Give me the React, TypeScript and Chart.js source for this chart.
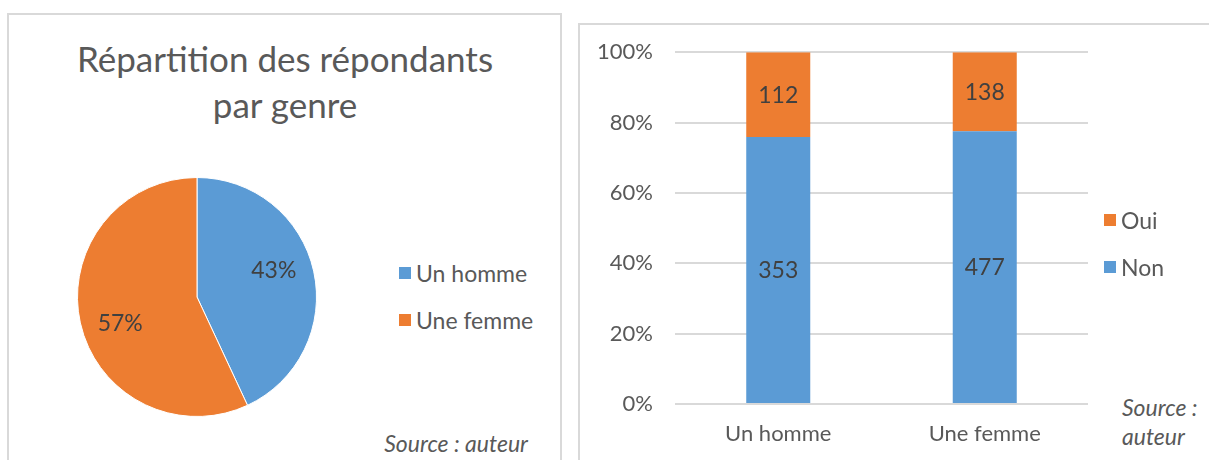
import React, { useEffect, useRef } from "react";
import { Chart, registerables } from "chart.js";

Chart.register(...registerables);

const pieTitle = ["Répartition des répondants", "par genre"];
const genderLabels = ["Un homme", "Une femme"];
const genderCounts = [465, 615];

const barCategories = ["Un homme", "Une femme"];
const nonCounts = [353, 477];
const ouiCounts = [112, 138];
const seriesNames = ["Non", "Oui"];
const sourceText = "Source : auteur";

const BLUE = "#5B9BD5";
const ORANGE = "#ED7D31";
const TEXT = "#595959";
const LABEL = "#404040";
const GRID = "#D9D9D9";
const FONT = "Lato, 'Open Sans', sans-serif";

const pieLabelPlugin = {
  id: "pieLabels",
  afterDatasetsDraw(chart: any) {
    const ctx = chart.ctx;
    const meta = chart.getDatasetMeta(0);
    const data = chart.data.datasets[0].data as number[];
    const total = data.reduce((a, b) => a + b, 0);
    ctx.save();
    ctx.font = `23px ${FONT}`;
    ctx.fillStyle = LABEL;
    ctx.textAlign = "center";
    ctx.textBaseline = "middle";
    meta.data.forEach((el: any, i: number) => {
      const p = el.getProps(["x", "y", "startAngle", "endAngle", "outerRadius"], true);
      const mid = (p.startAngle + p.endAngle) / 2 - 0.115;
      const r = p.outerRadius * 0.68;
      ctx.fillText(
        Math.round((data[i] / total) * 100) + "%",
        p.x + Math.cos(mid) * r,
        p.y + Math.sin(mid) * r
      );
    });
    ctx.restore();
  },
};

const barLabelPlugin = {
  id: "barLabels",
  afterDatasetsDraw(chart: any) {
    const ctx = chart.ctx;
    ctx.save();
    ctx.font = `23px ${FONT}`;
    ctx.fillStyle = LABEL;
    ctx.textAlign = "center";
    ctx.textBaseline = "middle";
    const counts = [nonCounts, ouiCounts];
    chart.data.datasets.forEach((_ds: any, di: number) => {
      const meta = chart.getDatasetMeta(di);
      meta.data.forEach((el: any, i: number) => {
        const p = el.getProps(["x", "y", "base"], true);
        ctx.fillText(String(counts[di][i]), p.x, (p.y + p.base) / 2 + 1);
      });
    });
    ctx.restore();
  },
};

function PieChart() {
  const ref = useRef<HTMLCanvasElement>(null);
  useEffect(() => {
    const chart = new Chart(ref.current!, {
      type: "pie",
      data: {
        labels: genderLabels,
        datasets: [
          {
            data: genderCounts,
            backgroundColor: [BLUE, ORANGE],
            borderColor: "#FFFFFF",
            borderWidth: 1,
          },
        ],
      },
      options: {
        responsive: false,
        animation: false,
        devicePixelRatio: 1,
        layout: { padding: 1 },
        plugins: { legend: { display: false }, tooltip: { enabled: false }, title: { display: false } },
      },
      plugins: [pieLabelPlugin],
    });
    return () => chart.destroy();
  }, []);
  return <canvas ref={ref} width={242} height={242} style={{ position: "absolute", left: 76, top: 176 }} />;
}

function BarChart() {
  const ref = useRef<HTMLCanvasElement>(null);
  useEffect(() => {
    const totals = nonCounts.map((n, i) => n + ouiCounts[i]);
    const nonPct = nonCounts.map((n, i) => (n / totals[i]) * 100);
    const ouiPct = ouiCounts.map((n, i) => (n / totals[i]) * 100);
    const chart = new Chart(ref.current!, {
      type: "bar",
      data: {
        labels: barCategories,
        datasets: [
          { label: seriesNames[0], data: nonPct, backgroundColor: BLUE, barPercentage: 0.31, categoryPercentage: 1 },
          { label: seriesNames[1], data: ouiPct, backgroundColor: ORANGE, barPercentage: 0.31, categoryPercentage: 1 },
        ],
      },
      options: {
        responsive: false,
        animation: false,
        devicePixelRatio: 1,
        layout: { padding: { top: 0, right: 22, left: 0, bottom: 0 } },
        plugins: { legend: { display: false }, tooltip: { enabled: false } },
        scales: {
          x: {
            stacked: true,
            grid: { display: false, drawTicks: false },
            border: { display: false },
            ticks: { color: TEXT, font: { family: FONT, size: 22 }, padding: 17 },
            afterFit: (s: any) => {
              s.height = 56;
            },
          },
          y: {
            stacked: true,
            min: 0,
            max: 100,
            ticks: {
              stepSize: 20,
              color: TEXT,
              font: { family: FONT, size: 22 },
              padding: 22,
              callback: (v: any) => v + "%",
            },
            grid: { color: GRID, lineWidth: 2, drawTicks: false },
            border: { display: false },
            afterFit: (s: any) => {
              s.width = 95;
            },
          },
        },
      },
      plugins: [barLabelPlugin],
    });
    return () => chart.destroy();
  }, []);
  return <canvas ref={ref} width={530} height={443} style={{ position: "absolute", left: 580, top: 17 }} />;
}

const legendItem = (color: string, text: string, left: number, top: number, size: number) => (
  <div
    key={text}
    style={{
      position: "absolute",
      left,
      top,
      height: 28,
      display: "flex",
      alignItems: "center",
      whiteSpace: "nowrap",
      color: TEXT,
      fontSize: size,
      fontFamily: FONT,
    }}
  >
    <span style={{ display: "inline-block", width: 12, height: 12, background: color, marginRight: 5 }} />
    {text}
  </div>
);

export default function App() {
  return (
    <div
      style={{
        position: "absolute",
        left: 0,
        top: 0,
        width: 1209,
        height: 460,
        overflow: "hidden",
        background: "#FFFFFF",
        fontFamily: FONT,
      }}
    >
      {/* left frame */}
      <div
        style={{
          position: "absolute",
          left: 7,
          top: 13,
          width: 555,
          height: 470,
          border: "2px solid #D9D9D9",
          boxSizing: "border-box",
        }}
      />
      {/* right frame */}
      <div
        style={{
          position: "absolute",
          left: 578,
          top: 23,
          width: 660,
          height: 470,
          border: "2px solid #D9D9D9",
          boxSizing: "border-box",
        }}
      />
      <div
        style={{
          position: "absolute",
          left: 7,
          width: 556,
          top: 35,
          textAlign: "center",
          color: TEXT,
          fontSize: 35,
          lineHeight: "46px",
          fontFamily: FONT,
        }}
      >
        {pieTitle[0]}
        <br />
        {pieTitle[1]}
      </div>
      <PieChart />
      {legendItem(BLUE, genderLabels[0], 399, 259, 23)}
      {legendItem(ORANGE, genderLabels[1], 399, 306, 23)}
      <div
        style={{
          position: "absolute",
          right: 1209 - 528,
          top: 429,
          fontStyle: "italic",
          color: TEXT,
          fontSize: 23,
          lineHeight: "28px",
          whiteSpace: "nowrap",
        }}
      >
        {sourceText}
      </div>
      <BarChart />
      {legendItem(ORANGE, seriesNames[1], 1104, 206, 23)}
      {legendItem(BLUE, seriesNames[0], 1104, 253, 23)}
      <div
        style={{
          position: "absolute",
          left: 1122,
          top: 393,
          fontStyle: "italic",
          color: TEXT,
          fontSize: 23,
          lineHeight: "29px",
          whiteSpace: "nowrap",
        }}
      >
        {sourceText.split(" auteur")[0]}
        <br />
        {"auteur"}
      </div>
    </div>
  );
}
